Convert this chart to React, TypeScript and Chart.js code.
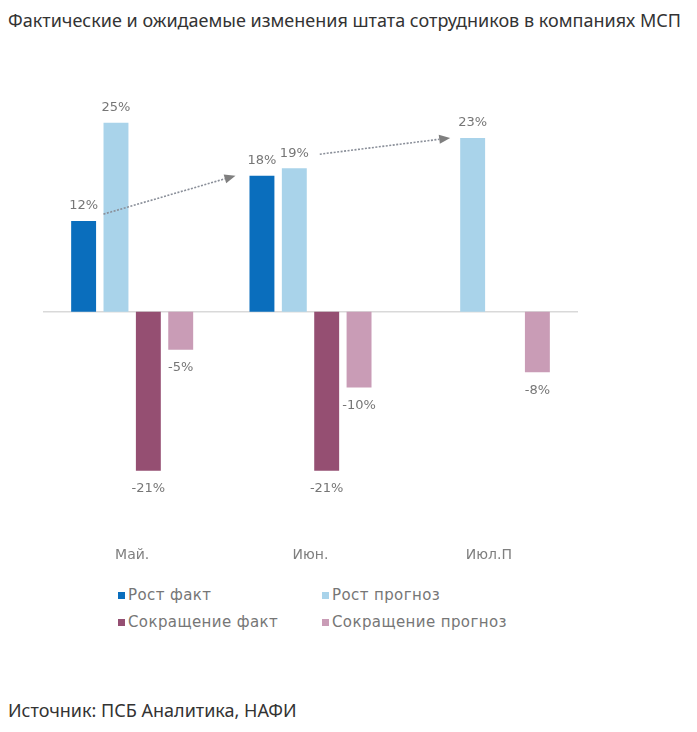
import React, { useEffect, useRef } from "react";
import { Chart, registerables } from "chart.js";

Chart.register(...registerables);

// Chart data
const categories = ["Май.", "Июн.", "Июл.П"];
const seriesNames = ["Рост факт", "Рост прогноз", "Сокращение факт", "Сокращение прогноз"];
const growthActual: (number | null)[] = [12, 18, null];
const growthForecast: (number | null)[] = [25, 19, 23];
const cutActual: (number | null)[] = [-21, -21, null];
const cutForecast: (number | null)[] = [-5, -10, -8];
const seriesColors = ["#0A6EBD", "#A9D3EA", "#954F72", "#C99CB6"];
const yMin = -30;
const yMax = 30;

const titleText = "Фактические и ожидаемые изменения штата сотрудников в компаниях МСП";
const sourceText = "Источник: ПСБ Аналитика, НАФИ";

const CHART_FONT = "'DejaVu Sans', sans-serif";
const TEXT_FONT = "'Noto Sans', sans-serif";

// zero baseline across the plot
const zeroLinePlugin = {
  id: "zeroLine",
  beforeDatasetsDraw(chart: any) {
    const { ctx, chartArea, scales } = chart;
    const y = scales.y.getPixelForValue(0);
    ctx.save();
    ctx.strokeStyle = "#D9D9D9";
    ctx.lineWidth = 1.5;
    ctx.beginPath();
    ctx.moveTo(chartArea.left, y);
    ctx.lineTo(chartArea.right, y);
    ctx.stroke();
    ctx.restore();
  },
};

// percent labels above / below each bar
const valueLabelPlugin = {
  id: "valueLabels",
  afterDatasetsDraw(chart: any) {
    const { ctx } = chart;
    ctx.save();
    ctx.font = `13px ${CHART_FONT}`;
    ctx.fillStyle = "#767676";
    ctx.textAlign = "center";
    ctx.textBaseline = "middle";
    chart.data.datasets.forEach((ds: any, di: number) => {
      const meta = chart.getDatasetMeta(di);
      meta.data.forEach((el: any, i: number) => {
        const v = ds.data[i];
        if (v === null || v === undefined) return;
        const y = v >= 0 ? el.y - 15 : el.y + 18;
        ctx.fillText(`${v}%`, el.x, y);
      });
    });
    ctx.restore();
  },
};

function drawArrow(ctx: any, x1: number, y1: number, x2: number, y2: number) {
  const ang = Math.atan2(y2 - y1, x2 - x1);
  const head = 11;
  const half = 4.5;
  const bx = x2 - head * Math.cos(ang);
  const by = y2 - head * Math.sin(ang);
  ctx.save();
  ctx.strokeStyle = "#8A8F99";
  ctx.fillStyle = "#7F7F7F";
  ctx.lineWidth = 1.6;
  ctx.setLineDash([2, 1.5]);
  ctx.beginPath();
  ctx.moveTo(x1, y1);
  ctx.lineTo(bx, by);
  ctx.stroke();
  ctx.setLineDash([]);
  ctx.beginPath();
  ctx.moveTo(x2, y2);
  ctx.lineTo(bx - half * Math.sin(ang), by + half * Math.cos(ang));
  ctx.lineTo(bx + half * Math.sin(ang), by - half * Math.cos(ang));
  ctx.closePath();
  ctx.fill();
  ctx.restore();
}

// dotted trend arrows between the growth bars
const trendArrowPlugin = {
  id: "trendArrows",
  afterDatasetsDraw(chart: any) {
    const { ctx, scales } = chart;
    const ga = chart.getDatasetMeta(0).data;
    const gf = chart.getDatasetMeta(1).data;
    const w = gf[0].width;
    const ys = scales.y;
    drawArrow(
      ctx,
      gf[0].x - w / 2,
      ys.getPixelForValue(growthActual[0] as number) - 7,
      ga[1].x - w / 2 - 14,
      ys.getPixelForValue(growthActual[1] as number)
    );
    drawArrow(
      ctx,
      gf[1].x + w / 2 + 13,
      ys.getPixelForValue(growthForecast[1] as number) - 14,
      gf[2].x - w / 2 - 10,
      ys.getPixelForValue(growthForecast[2] as number)
    );
  },
};

function StaffChart() {
  const ref = useRef<HTMLCanvasElement | null>(null);

  useEffect(() => {
    if (!ref.current) return;
    const series = [growthActual, growthForecast, cutActual, cutForecast];
    const chart = new Chart(ref.current, {
      type: "bar",
      data: {
        labels: categories,
        datasets: series.map((data, i) => ({
          label: seriesNames[i],
          data,
          backgroundColor: seriesColors[i],
          borderWidth: 0,
          categoryPercentage: 0.726,
          barPercentage: 0.77,
        })),
      },
      options: {
        responsive: false,
        animation: false,
        devicePixelRatio: 1,
        layout: { padding: { left: 43, right: 119, top: 85, bottom: 9.5 } },
        plugins: {
          legend: { display: false },
          tooltip: { enabled: false },
          title: { display: false },
        },
        scales: {
          x: {
            grid: { display: false, drawTicks: false },
            border: { display: false },
            ticks: {
              color: "#7F7F7F",
              font: { family: CHART_FONT, size: 14 },
              padding: 8,
            },
          },
          y: {
            display: false,
            min: yMin,
            max: yMax,
          },
        },
      },
      plugins: [zeroLinePlugin, valueLabelPlugin, trendArrowPlugin],
    });
    return () => chart.destroy();
  }, []);

  return (
    <canvas
      ref={ref}
      width={697}
      height={581}
      style={{ position: "absolute", left: 0, top: 0, width: 697, height: 581 }}
    />
  );
}

const legendCols = [118, 322];
const legendRows = [595, 622];

export default function App() {
  return (
    <div
      style={{
        position: "absolute",
        left: 0,
        top: 0,
        width: 697,
        height: 732,
        background: "#FFFFFF",
        overflow: "hidden",
      }}
    >
      <div
        style={{
          position: "absolute",
          left: 8,
          top: 9,
          lineHeight: "22px",
          fontSize: 18,
          fontFamily: TEXT_FONT,
          color: "#333333",
          whiteSpace: "nowrap",
        }}
      >
        {titleText}
      </div>
      <StaffChart />
      {seriesNames.map((name, i) => (
        <div
          key={name}
          style={{
            position: "absolute",
            left: legendCols[i % 2],
            top: legendRows[Math.floor(i / 2)] - 10,
            height: 20,
            display: "flex",
            alignItems: "center",
            fontFamily: CHART_FONT,
            fontSize: 15,
            letterSpacing: 0.4,
            color: "#767676",
            whiteSpace: "nowrap",
          }}
        >
          <span
            style={{
              display: "inline-block",
              width: 7,
              height: 7,
              background: seriesColors[i],
              marginRight: 3,
            }}
          />
          {name}
        </div>
      ))}
      <div
        style={{
          position: "absolute",
          left: 8,
          top: 699,
          lineHeight: "22px",
          fontSize: 18,
          fontFamily: TEXT_FONT,
          color: "#333333",
          whiteSpace: "nowrap",
        }}
      >
        {sourceText}
      </div>
    </div>
  );
}
